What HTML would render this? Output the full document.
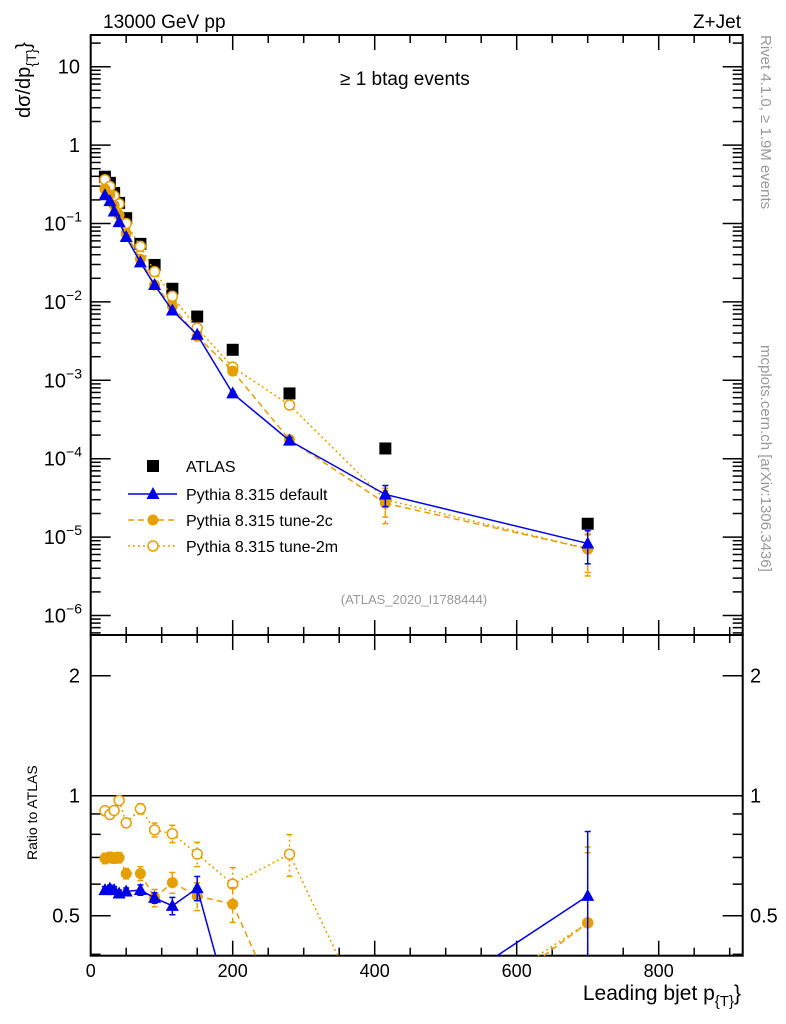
<!DOCTYPE html>
<html><head><meta charset="utf-8"><style>
html,body{margin:0;padding:0;background:#fff;width:786px;height:1024px;overflow:hidden;}
svg{display:block;font-family:"Liberation Sans",sans-serif;}
</style></head><body>
<svg id="chart" width="786" height="1024" xmlns="http://www.w3.org/2000/svg">
<text x="103" y="28" font-size="19">13000 GeV pp</text>
<text x="741" y="28" font-size="19" text-anchor="end">Z+Jet</text>
<text x="340" y="85" font-size="19">≥ 1 btag events</text>
<text transform="translate(30,118) rotate(-90)" font-size="20">dσ/dp<tspan font-size="14" dy="6">{T}</tspan><tspan dy="-6">}</tspan></text>
<text transform="translate(761,35) rotate(90)" font-size="15" fill="#999">Rivet 4.1.0, ≥ 1.9M events</text>
<text transform="translate(761,345) rotate(90)" font-size="15" fill="#999">mcplots.cern.ch [arXiv:1306.3436]</text>
<text x="414" y="604" font-size="13" fill="#999" text-anchor="middle">(ATLAS_2020_I1788444)</text>
<text transform="translate(37,860) rotate(-90)" font-size="14">Ratio to ATLAS</text>
<text x="741" y="1000" font-size="21" text-anchor="end">Leading bjet p<tspan font-size="15" dy="6">{T}</tspan><tspan dy="-6">}</tspan></text>
<g id="g"></g>
</svg>
<script>
const xs = [20,27,33,40,50,70,90,115,150,200,280,415,700];
const atlas = [0.395,0.33,0.245,0.183,0.117,0.055,0.0296,0.0147,0.0065,0.00245,6.8e-4,1.35e-4,1.48e-5];
const pDefault = [0.229,0.193,0.142,0.104,0.0673,0.0319,0.0164,0.00778,0.00381,6.8e-4,1.7e-4,3.5e-5,8.3e-6];
const pTune2c = [0.275,0.231,0.171,0.128,0.0746,0.0351,0.0164,0.0089,0.00364,0.00131,1.75e-4,2.7e-5,7.1e-6];
const pTune2m = [0.362,0.296,0.225,0.178,0.100,0.051,0.0243,0.0118,0.00464,0.00147,4.85e-4,3.0e-5,7.1e-6];
const relErrDefault = [0.02,0.02,0.02,0.02,0.02,0.03,0.03,0.05,0.07,0.05,0.1,0.3,0.45];
const relErr2c = [0.03,0.03,0.03,0.03,0.03,0.04,0.05,0.06,0.08,0.1,0.12,0.45,0.5];
const relErr2m = [0.02,0.02,0.02,0.02,0.02,0.03,0.04,0.05,0.07,0.1,0.12,0.4,0.55];
const xTicks = [0,200,400,600,800];
const yExps = [1,0,-1,-2,-3,-4,-5,-6];
const rTicks = [2,1,0.5];

const NS="http://www.w3.org/2000/svg";
const g=document.getElementById('g');
const L=90.7,R=742.7,T=35,MB=635,RB=955.7;
const X=v=>L+v*0.71;
const Y=v=>66.7-(Math.log10(v)-1)*78.4;
const RY=r=>795.7-Math.log2(r)*120;
function el(t,a,p){const e=document.createElementNS(NS,t);for(const k in a)e.setAttribute(k,a[k]);(p||g).appendChild(e);return e;}
const fm=el('rect',{x:L,y:T,width:R-L,height:MB-T,fill:'none',stroke:'#000','stroke-width':2});


const fr=el('rect',{x:L,y:MB,width:R-L,height:RB-MB,fill:'none',stroke:'#000','stroke-width':2});


for(let v=0;v<=900;v+=50){const x=X(v);const maj=v%200===0;const len=maj?15:8;
 [[T,1],[MB,-1],[MB,1],[RB,-1]].forEach(([y0,d])=>el('line',{x1:x,x2:x,y1:y0,y2:y0+d*len,stroke:'#000','stroke-width':1.5}));}
xTicks.forEach(v=>{const t=el('text',{x:X(v),y:977,'font-size':18,'text-anchor':'middle'});t.textContent=v;
 
 });
for(let e=-7;e<=1;e++){for(let m=1;m<=9;m++){const v=m*Math.pow(10,e);const y=Y(v);if(y<T||y>MB)continue;const len=m===1?20:10;
 el('line',{x1:L,x2:L+len,y1:y,y2:y,stroke:'#000','stroke-width':1.5});el('line',{x1:R,x2:R-len,y1:y,y2:y,stroke:'#000','stroke-width':1.5});}}
yExps.forEach(e=>{const y=Y(Math.pow(10,e))+7;const t=el('text',{x:e<0?58:80,y:y,'font-size':20,'text-anchor':'end'});
 if(e===1)t.textContent='10';else if(e===0)t.textContent='1';else{t.textContent='10';const s=el('tspan',{'font-size':14,dy:-9},t);s.textContent='−'+(-e);t.setAttribute('x',82);}
 
 });
[0.4,0.5,0.6,0.7,0.8,0.9,1,2].forEach(r=>{const y=RY(r);const maj=(r===0.5||r===1||r===2);const len=maj?20:10;
 el('line',{x1:L,x2:L+len,y1:y,y2:y,stroke:'#000','stroke-width':1.5});el('line',{x1:R,x2:R-len,y1:y,y2:y,stroke:'#000','stroke-width':1.5});});
rTicks.forEach(r=>{[[80,'end'],[750,'start']].forEach(([x,a])=>{const t=el('text',{x:x,y:RY(r)+7,'font-size':20,'text-anchor':a});t.textContent=r;
 
 });});
const one=el('line',{x1:L,x2:R,y1:RY(1),y2:RY(1),stroke:'#000','stroke-width':1.5});


const OR='#e69f00',BL='#0000e6';
function marker(kind,x,y,col,p){
 if(kind==='sq')return el('rect',{x:x-6,y:y-6,width:12,height:12,fill:'#000'},p);
 if(kind==='tri')return el('polygon',{points:`${x},${y-7} ${x-6.5},${y+5} ${x+6.5},${y+5}`,fill:col},p);
 if(kind==='dot')return el('circle',{cx:x,cy:y,r:5.5,fill:col},p);
 return el('circle',{cx:x,cy:y,r:5,fill:'#fff',stroke:col,'stroke-width':1.5},p);}
// clip a segment to y range [ya,yb]
function clipSeg(x1,y1,x2,y2,ya,yb){
 let t0=0,t1=1;const dy=y2-y1;
 if(dy===0){if(y1<ya||y1>yb)return null;return [x1,y1,x2,y2];}
 const ta=(ya-y1)/dy,tb=(yb-y1)/dy;
 t0=Math.max(t0,Math.min(ta,tb));t1=Math.min(t1,Math.max(ta,tb));
 if(t0>=t1)return null;
 return [x1+(x2-x1)*t0,y1+dy*t0,x1+(x2-x1)*t1,y1+dy*t1];}
function series(name,vals,errs,kind,col,dash,isRatio){
 const p=el('g',{});
 
 
 const ya=isRatio?MB:T,yb=isRatio?RB:MB;
 const yf=isRatio?(i=>RY(vals[i]/atlas[i])):(i=>Y(vals[i]));
 if(kind!=='sq'){for(let i=0;i<xs.length-1;i++){const s=clipSeg(X(xs[i]),yf(i),X(xs[i+1]),yf(i+1),ya,yb);
  if(s)el('line',{x1:s[0],y1:s[1],x2:s[2],y2:s[3],stroke:col,'stroke-width':1.5,'stroke-dasharray':dash},p);}}
 xs.forEach((x,i)=>{
  const yc=yf(i);
  if(yc<ya||yc>yb)return;
  if(errs){const v=vals[i],d=errs[i]*v;const f=isRatio?(w=>RY(w/atlas[i])):Y;
   let y1=f(v+d),y2=f(Math.max(v-d,v*0.05));
   const c1=y1>=ya,c2=y2<=yb;
   y1=Math.max(y1,ya);y2=Math.min(y2,yb);
   el('line',{x1:X(x),x2:X(x),y1:y1,y2:y2,stroke:col,'stroke-width':1.5,'stroke-dasharray':dash},p);
   if(c1)el('line',{x1:X(x)-3,x2:X(x)+3,y1:y1,y2:y1,stroke:col,'stroke-width':1.5},p);
   if(c2)el('line',{x1:X(x)-3,x2:X(x)+3,y1:y2,y2:y2,stroke:col,'stroke-width':1.5},p);}
  const m=marker(kind,X(x),yc,col,p);
  
  });}
series('atlas-data',atlas,null,'sq','#000','',false);
series('pythia-tune-2m',pTune2m,relErr2m,'open',OR,'2,3',false);
series('pythia-tune-2c',pTune2c,relErr2c,'dot',OR,'6,4',false);
series('pythia-default',pDefault,relErrDefault,'tri',BL,'',false);
series('ratio-tune-2m',pTune2m,relErr2m,'open',OR,'2,3',true);
series('ratio-tune-2c',pTune2c,relErr2c,'dot',OR,'6,4',true);
series('ratio-default',pDefault,relErrDefault,'tri',BL,'',true);
const leg=[['ATLAS','sq','#000',null],['Pythia 8.315 default','tri',BL,''],['Pythia 8.315 tune-2c','dot',OR,'6,4'],['Pythia 8.315 tune-2m','open',OR,'2,3']];
const ly=[466,494,520,546];
leg.forEach((l,i)=>{const p=el('g',{});
 
 
 if(l[3]!==null)el('line',{x1:128,x2:177,y1:ly[i],y2:ly[i],stroke:l[2],'stroke-width':1.5,'stroke-dasharray':l[3]},p);
 marker(l[1],153,ly[i],l[2],p);
 const t=el('text',{x:186,y:ly[i]+6,'font-size':16},p);t.textContent=l[0];});
</script>
</body></html>
